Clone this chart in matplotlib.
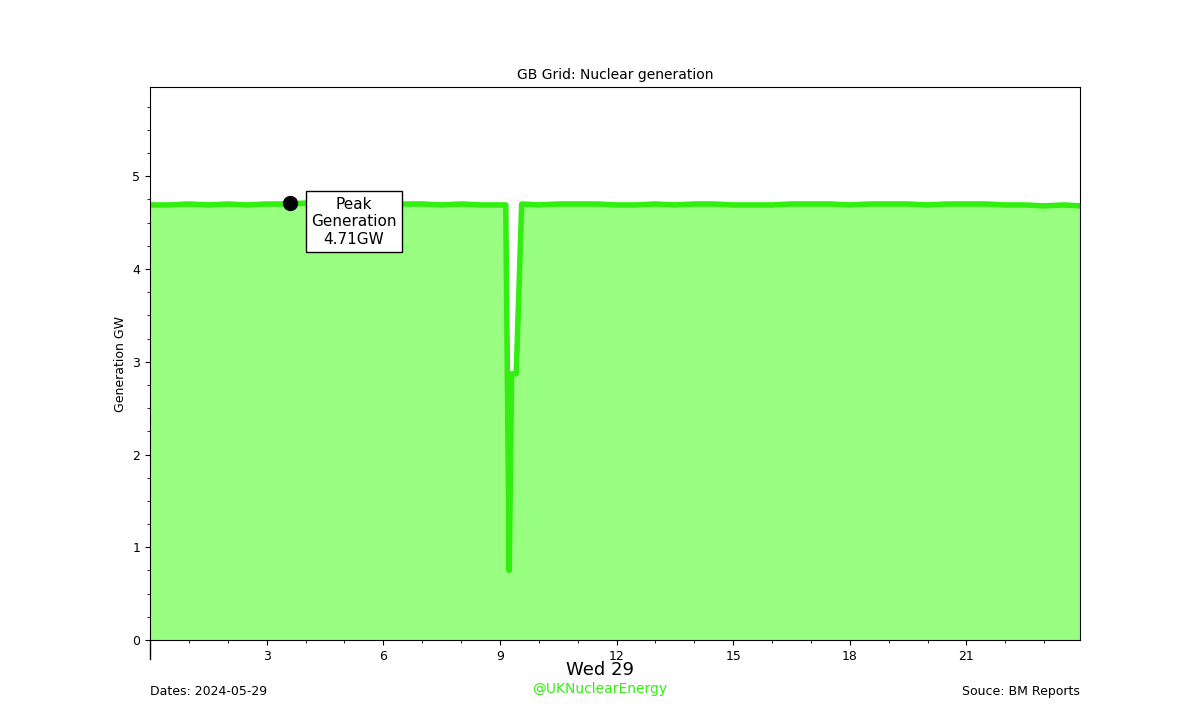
import matplotlib.pyplot as plt
from matplotlib.ticker import AutoMinorLocator

plt.rcParams["font.size"] = 9

# hours since midnight and generation in GW
hours = [0, 0.5, 1, 1.5, 2, 2.5, 3, 3.5, 4, 4.5, 5, 5.5, 6, 6.5, 7, 7.5, 8, 8.5, 9, 9.15,
         9.24, 9.3, 9.42, 9.56, 10, 10.5, 11, 11.5, 12, 12.5, 13, 13.5, 14, 14.5,
         15, 15.5, 16, 16.5, 17, 17.5, 18, 18.5, 19, 19.5, 20, 20.5, 21, 21.5, 22, 22.5,
         23, 23.5, 23.92]
gen = [4.69, 4.69, 4.70, 4.69, 4.70, 4.69, 4.70, 4.70, 4.71, 4.70, 4.70, 4.69, 4.70, 4.70,
       4.70, 4.69, 4.70, 4.69, 4.69, 4.69, 0.75, 2.87, 2.87, 4.70, 4.69, 4.70, 4.70,
       4.70, 4.69, 4.69, 4.70, 4.69, 4.70, 4.70, 4.69, 4.69, 4.69, 4.70, 4.70, 4.70, 4.69,
       4.70, 4.70, 4.70, 4.69, 4.70, 4.70, 4.70, 4.69, 4.69, 4.68, 4.69, 4.68]
peak_hour = 3.6
peak_gen = 4.71

fig, ax = plt.subplots(figsize=(12, 7.2), dpi=100)
ax.fill_between(hours, gen, color="#99ff80")
ax.plot(hours, gen, color="#33ee11", lw=4)
ax.plot(peak_hour, peak_gen, "o", color="black", ms=10)
ax.text(peak_hour + 1.65, peak_gen - 0.2, "Peak\nGeneration\n%.2fGW" % peak_gen,
        ha="center", va="center", fontsize=11,
        bbox=dict(facecolor="white", edgecolor="black"))

ax.set_xlim(0, 23.92)
ax.set_ylim(0, 5.96)
ax.set_xticks([3, 6, 9, 12, 15, 18, 21])
ax.xaxis.set_minor_locator(AutoMinorLocator(3))
ax.yaxis.set_minor_locator(AutoMinorLocator(4))
# day separator tick at midnight
ax.plot([0, 0], [0, -0.2], color="black", lw=1, clip_on=False)
ax.set_title("GB Grid: Nuclear generation", fontsize=10)
ax.set_ylabel("Generation GW")
fig.subplots_adjust(left=0.125, right=0.9, bottom=0.111, top=0.879)

fig.text(0.5, 0.063, "Wed 29", ha="center", fontsize=13)
fig.text(0.5, 0.038, "@UKNuclearEnergy", ha="center", color="#33ee11", fontsize=10)
fig.text(0.125, 0.035, "Dates: 2024-05-29", ha="left")
fig.text(0.9, 0.035, "Souce: BM Reports", ha="right")

fig.savefig("out.png")
